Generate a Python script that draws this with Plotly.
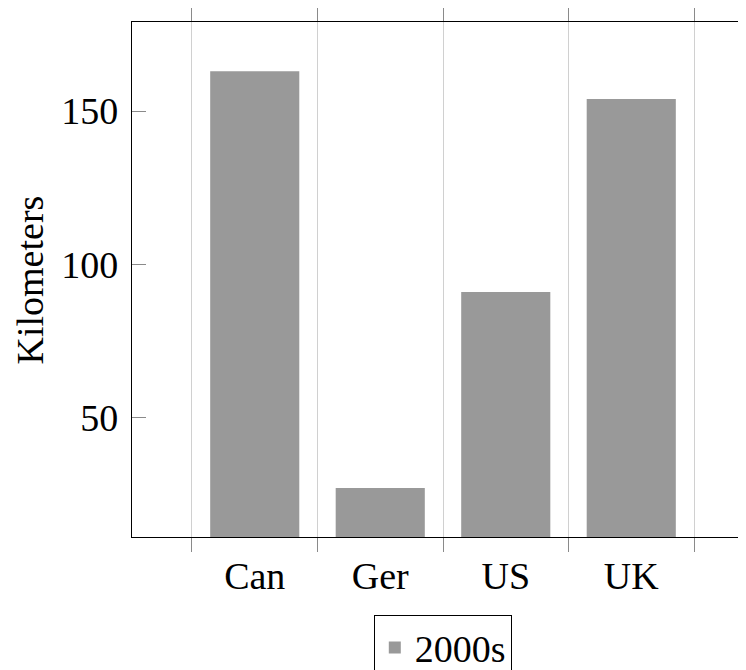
import plotly.graph_objects as go

categories = ["Can", "Ger", "US", "UK"]
values_2000s = [163, 27, 91, 154]
y_tick_values = [50, 100, 150]
series_name = "2000s"
y_title = "Kilometers"

x_pos = list(range(len(categories)))
bounds = [i - 0.5 for i in range(len(categories) + 1)]

FONT = "Liberation Serif"
FS = 38

fig = go.Figure()
fig.add_trace(go.Bar(
    x=x_pos, y=values_2000s, name=series_name, width=0.71,
    marker=dict(color="#999999", line=dict(width=0)),
))
fig.add_trace(go.Scatter(x=[None], y=[None], yaxis="y2", showlegend=False,
                         hoverinfo="skip", mode="markers"))

fig.update_layout(
    width=746, height=670,
    margin=dict(l=124, r=0, t=14, b=141, autoexpand=False),
    plot_bgcolor="white", paper_bgcolor="white",
    font=dict(family=FONT, size=FS, color="black"),
    showlegend=True,
    xaxis=dict(
        range=[-0.978, 3.978], automargin=False,
        tickmode="array", tickvals=x_pos, ticktext=categories,
        ticks="", showgrid=False, zeroline=False,
        showline=True, linecolor="black", linewidth=1.3, mirror="ticks",
        minor=dict(tickmode="array", tickvals=bounds, ticks="outside", ticklen=14,
                   tickcolor="#8a8a8a", tickwidth=1.3, showgrid=True,
                   gridcolor="#d0d0d0", gridwidth=1.3),
        tickfont=dict(family=FONT, size=FS, color="black"),
        ticklabelstandoff=5,
    ),
    yaxis=dict(
        range=[11, 179.1], automargin=False,
        tickmode="array", tickvals=y_tick_values,
        ticks="inside", ticklen=14, tickcolor="#8a8a8a", tickwidth=1.3,
        showline=True, linecolor="black", linewidth=1.3, mirror=False,
        showgrid=False, zeroline=False,
        tickfont=dict(family=FONT, size=FS, color="black"),
        ticklabelstandoff=5,
    ),
    yaxis2=dict(
        overlaying="y", side="right", anchor="x", automargin=False,
        range=[11, 179.1],
        tickmode="array", tickvals=y_tick_values,
        ticks="inside", ticklen=14, tickcolor="#8a8a8a", tickwidth=1.3,
        showticklabels=False, showline=False, showgrid=False, zeroline=False,
    ),
    legend=dict(
        x=0.5, xanchor="center", y=-0.1515, yanchor="top",
        orientation="h", bordercolor="black", borderwidth=1.3,
        font=dict(family=FONT, size=FS, color="black"),
        bgcolor="white", itemwidth=30,
    ),
    annotations=[dict(
        text=y_title, xref="paper", yref="paper", x=-0.164, y=0.5,
        xanchor="center", yanchor="middle", textangle=-90, showarrow=False,
        font=dict(family=FONT, size=FS, color="black"),
    )],
)

fig.write_html("out.html")
